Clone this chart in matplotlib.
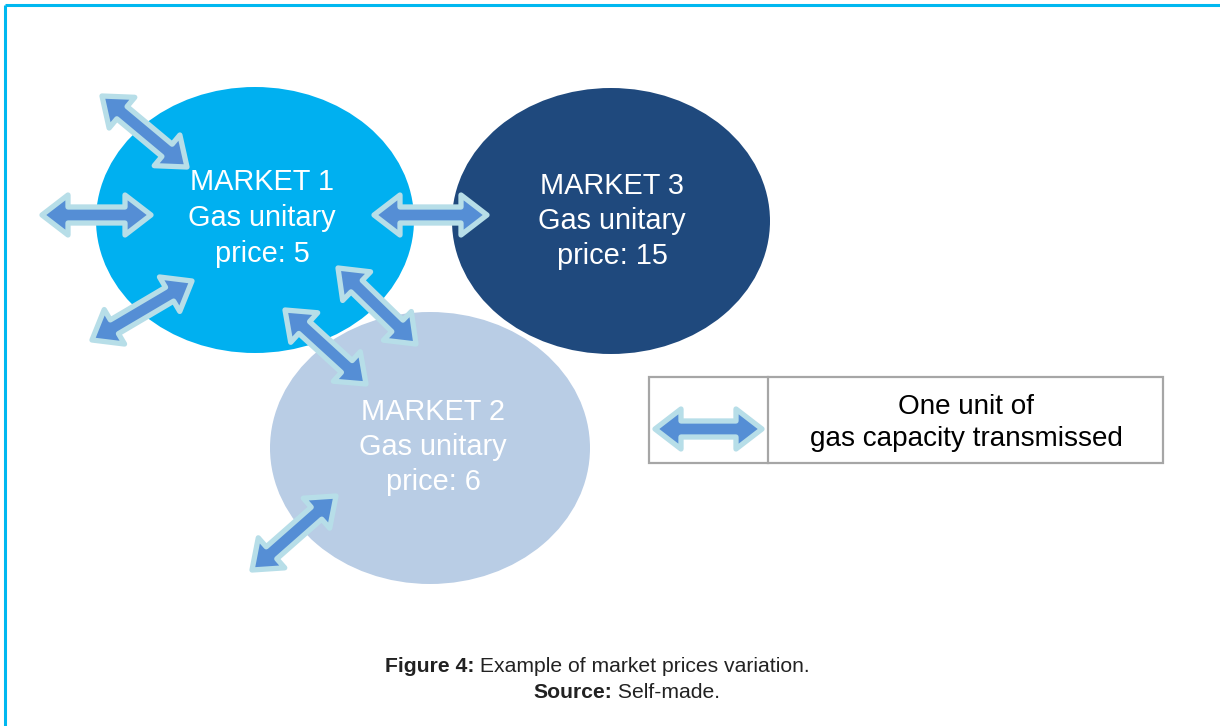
import numpy as np
import matplotlib
matplotlib.use("Agg")
import matplotlib.pyplot as plt
from matplotlib.patches import Ellipse, Polygon, Rectangle

# ---- data ----
markets = ["MARKET 1", "MARKET 3", "MARKET 2"]
prices = [5, 15, 6]
legend_lines = ["One unit of", "gas capacity transmissed"]
caption_bold = "Figure 4:"
caption_text = " Example of market prices variation."
source_bold = "Source:"
source_text = " Self-made."

# ---- layout (pixel coordinates) ----
ell_geom = [  # cx, cy, w, h
    (255, 220, 318, 266),
    (611, 221, 318, 266),
    (430, 448, 320, 272),
]
ell_colors = ["#00B0F0", "#1F497D", "#B9CDE5"]
text_pos = [(262, 218), (612, 221), (433, 447)]
arrows = [
    ((102, 96), (187, 167)),
    ((42, 215), (151, 215)),
    ((92, 340), (192, 281)),
    ((374, 215), (487, 215)),
    ((285, 310), (366, 384)),
    ((338, 268), (416, 344)),
    ((252, 570), (336, 496)),
]
legend_arrow = ((655, 429), (762, 429))

ARROW_FILL = "#558ED5"
ARROW_EDGE = "#B7DEE8"

FONT = "Liberation Sans"

fig = plt.figure(figsize=(12.2, 7.26), dpi=100)
ax = fig.add_axes([0, 0, 1, 1])
ax.set_xlim(0, 1220)
ax.set_ylim(726, 0)
ax.axis("off")

# outer border (top and left)
ax.plot([5, 1220], [5, 5], color="#00B8F0", lw=2.2, solid_capstyle="butt")
ax.plot([5, 5], [5, 726], color="#00B8F0", lw=2.2, solid_capstyle="butt")


def double_arrow(p0, p1, shaft=16, headw=40, headl=26):
    p0 = np.array(p0, float)
    p1 = np.array(p1, float)
    d = p1 - p0
    L = np.linalg.norm(d)
    u = d / L
    n = np.array([-u[1], u[0]])
    pts = [
        p0,
        p0 + u * headl + n * headw / 2,
        p0 + u * headl + n * shaft / 2,
        p1 - u * headl + n * shaft / 2,
        p1 - u * headl + n * headw / 2,
        p1,
        p1 - u * headl - n * headw / 2,
        p1 - u * headl - n * shaft / 2,
        p0 + u * headl - n * shaft / 2,
        p0 + u * headl - n * headw / 2,
    ]
    ax.add_patch(Polygon(pts, closed=True, facecolor=ARROW_FILL,
                         edgecolor=ARROW_EDGE, lw=3.8, joinstyle="round",
                         zorder=5))


for (cx, cy, w, h), c in zip(ell_geom, ell_colors):
    ax.add_patch(Ellipse((cx, cy), w, h, facecolor=c, edgecolor="none", zorder=1))

for (tx, ty), m, p in zip(text_pos, markets, prices):
    lines = [m, "Gas unitary", f"price: {p}"]
    for i, s in enumerate(lines):
        ax.text(tx, ty + (i - 1) * 35.5, s, color="white", fontsize=20.8,
                family=FONT, ha="center", va="center", zorder=3)

for a, b in arrows:
    double_arrow(a, b)

# legend box
ax.add_patch(Rectangle((649, 377), 514, 86, facecolor="white",
                       edgecolor="#A6A6A6", lw=1.6, zorder=4))
ax.plot([768, 768], [377, 463], color="#A6A6A6", lw=1.6, zorder=4)
double_arrow(*legend_arrow)
for i, s in enumerate(legend_lines):
    ax.text(966, 407 + i * 32.5, s, color="black", fontsize=20.1,
            family=FONT, ha="center", va="center", zorder=6)

# caption
t1 = ax.text(385, 666, caption_bold, fontsize=15.2, family=FONT,
             fontweight="bold", color="#222222", ha="left", va="center")
ax.annotate(caption_text, xy=(1, 0.5), xycoords=t1, fontsize=15.2,
            family=FONT, color="#222222", ha="left", va="center")
t2 = ax.text(533, 693, source_bold, fontsize=15.2, family=FONT,
             fontweight="bold", color="#222222", ha="left", va="center")
ax.annotate(source_text, xy=(1, 0.5), xycoords=t2, fontsize=15.2,
            family=FONT, color="#222222", ha="left", va="center")

fig.savefig("out.png", dpi=100, facecolor="white")
